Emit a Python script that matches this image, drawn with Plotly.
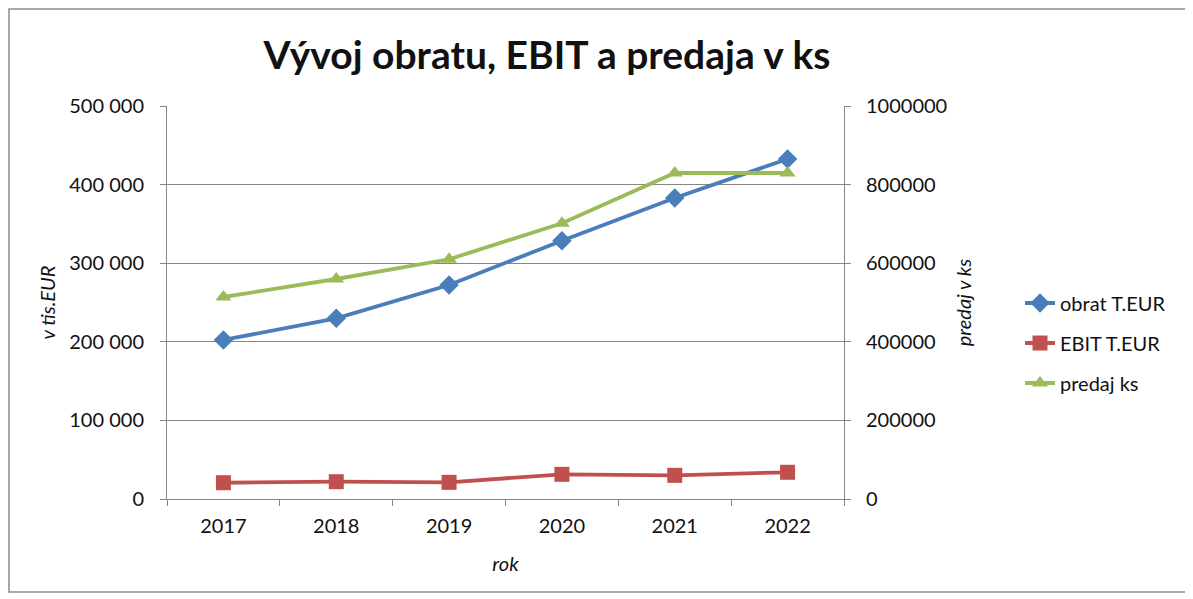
import plotly.graph_objects as go

years = ["2017", "2018", "2019", "2020", "2021", "2022"]
obrat = [202300, 229900, 272300, 328600, 383000, 432600]
ebit = [20700, 22000, 21200, 31400, 30100, 34000]
predaj = [514000, 559800, 610000, 701500, 829500, 829500]

FONT = "Lato"
TXT = "#111111"
W, H = 1193, 599
OFF = 8  # page body offset
# plot area in screen pixels
SL, SR, ST, SB = 167, 844, 106, 499
L, R, T, B = SL - OFF, SR - OFF, ST - OFF, SB - OFF


def px(x):
    return (x - OFF - L) / (R - L)


def py(y):
    return (B - (y - OFF)) / (B - T)


fig = go.Figure()
fig.add_trace(go.Scatter(x=years, y=obrat, name="obrat T.EUR", mode="lines+markers",
                         line=dict(color="#4A7EBB", width=3.8),
                         marker=dict(symbol="diamond", size=15, color="#4A7EBB"),
                         legendgroup="a"))
fig.add_trace(go.Scatter(x=years, y=ebit, name="EBIT T.EUR", mode="lines+markers",
                         line=dict(color="#C0504D", width=3.8),
                         marker=dict(symbol="square", size=15, color="#C0504D"),
                         legendgroup="b"))
fig.add_trace(go.Scatter(x=years, y=predaj, name="predaj ks", mode="lines+markers",
                         line=dict(color="#9BBB59", width=3.8),
                         marker=dict(symbol="triangle-up", size=14, color="#9BBB59"),
                         legendgroup="c", yaxis="y2"))

axis_col = "#868686"
fig.update_layout(
    width=W, height=H,
    margin=dict(l=L, r=W - R, t=T, b=H - B),
    paper_bgcolor="white", plot_bgcolor="white",
    separators=", ",
    font=dict(family=FONT, size=20, color=TXT),
    title=dict(text="<b>Vývoj obratu, EBIT a predaja v ks</b>", x=(547 - OFF) / W,
               xanchor="center", y=1 - (55 - OFF) / H, yanchor="middle",
               yref="container", font=dict(family=FONT, size=39, color=TXT)),
    xaxis=dict(type="category", range=[-0.5, 5.5], showline=True, linecolor=axis_col,
               linewidth=1, ticks="outside", tickson="boundaries", ticklen=6,
               tickcolor=axis_col, showgrid=False, ticklabelstandoff=9,
               title=dict(text="<i>rok</i>", standoff=20, font=dict(size=20)),
               tickfont=dict(size=20)),
    yaxis=dict(range=[0, 500000], dtick=100000, tickformat=",d", showline=True,
               linecolor=axis_col, linewidth=1, ticks="outside", ticklen=6,
               tickcolor=axis_col, gridcolor=axis_col, gridwidth=1, zeroline=False,
               ticklabelstandoff=12,
               title=dict(text="<i>v tis.EUR</i>", standoff=8, font=dict(size=20)),
               tickfont=dict(size=20)),
    yaxis2=dict(range=[0, 1000000], dtick=200000, tickformat="d", overlaying="y",
                side="right", showline=True, linecolor=axis_col, linewidth=1,
                ticks="outside", ticklen=6, tickcolor=axis_col, showgrid=False,
                zeroline=False, ticklabelstandoff=11,
                title=dict(text="<i>predaj v ks</i>", standoff=10, font=dict(size=20)),
                tickfont=dict(size=20)),
    legend=dict(x=px(1020), y=py(343), xanchor="left", yanchor="middle",
                font=dict(size=20), tracegroupgap=11, bgcolor="rgba(0,0,0,0)"),
    shapes=[dict(type="rect", xref="paper", yref="paper",
                 x0=px(9), x1=px(1187), y0=py(592), y1=py(9),
                 line=dict(color="#8c8c8c", width=1.5), fillcolor="rgba(0,0,0,0)",
                 layer="below")],
)

fig.write_html("out.html")
